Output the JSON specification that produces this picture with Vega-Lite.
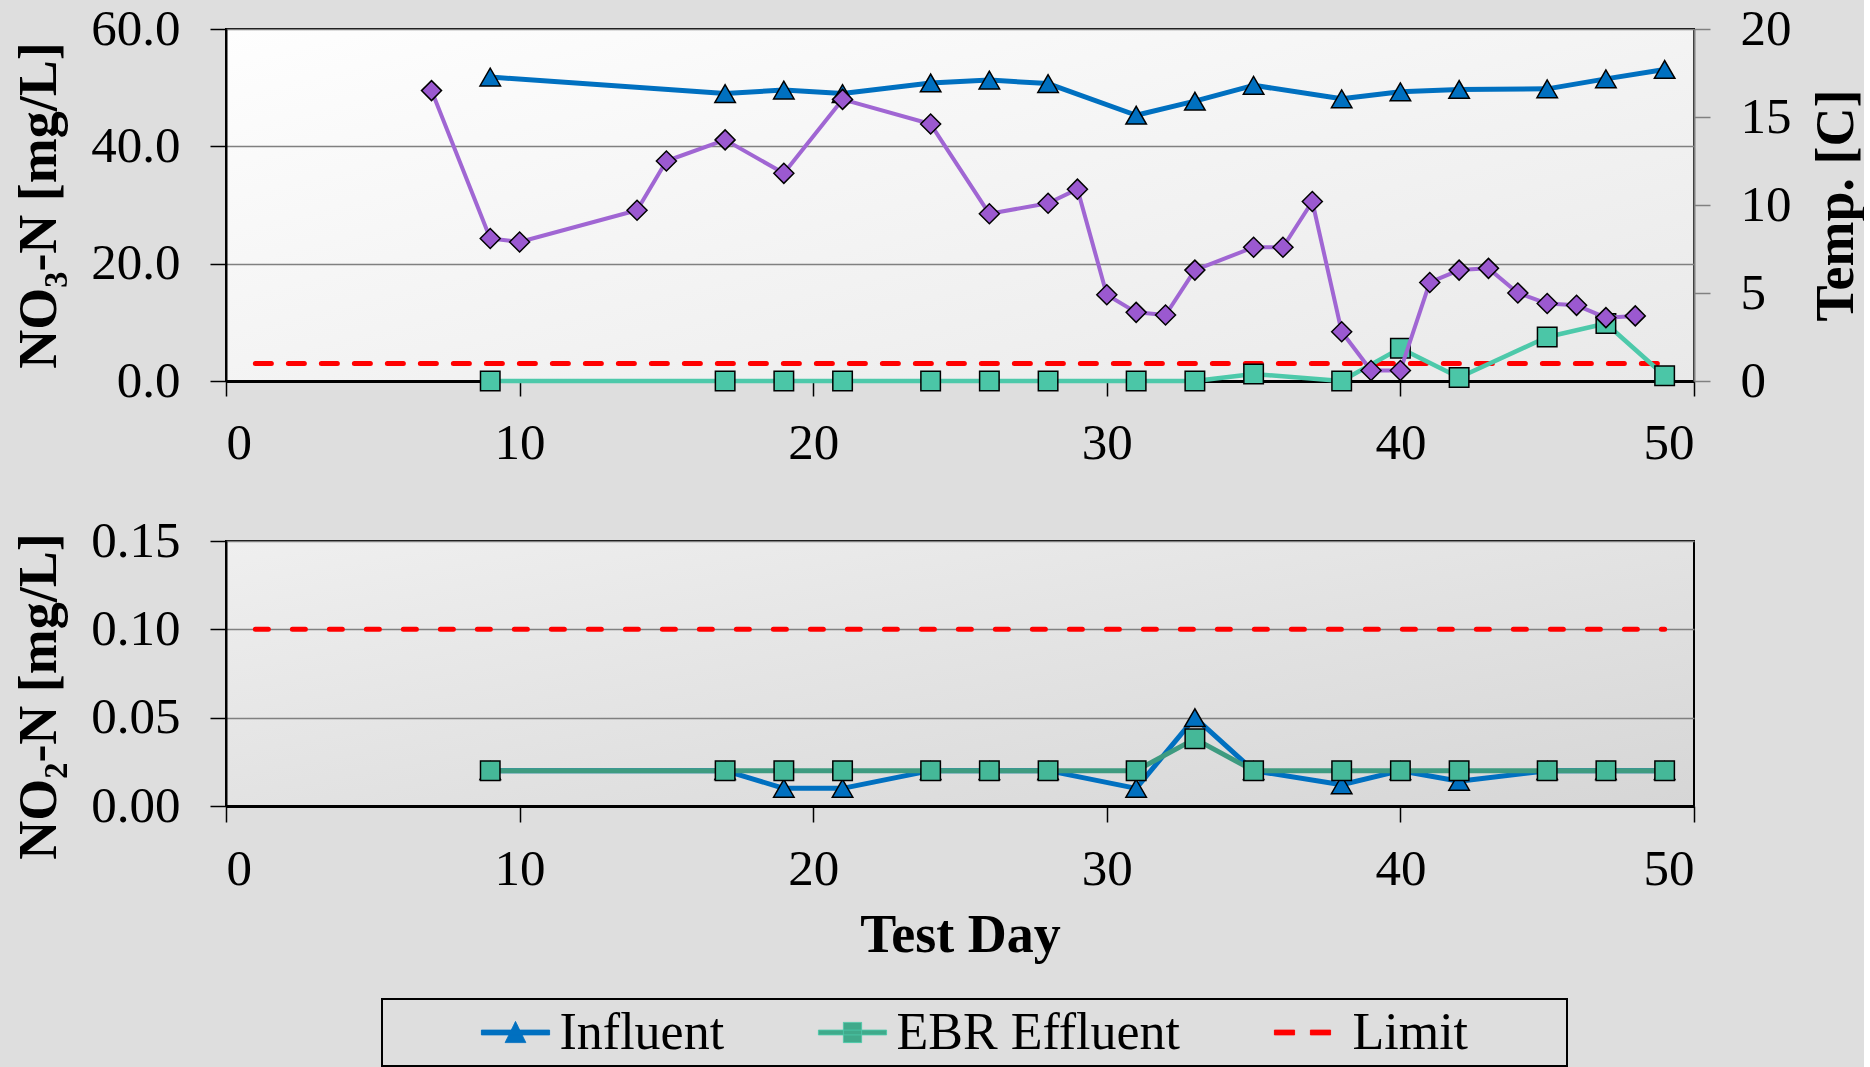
{
  "$schema": "https://vega.github.io/schema/vega-lite/v6.json",
  "background": "#dedede",
  "padding": {"left": 11, "top": 2, "right": 0, "bottom": 0},
  "spacing": 45,
  "config": {
    "font": "Liberation Serif",
    "view": {"stroke": "#000000", "strokeWidth": 2},
    "axis": {
      "labelFont": "Liberation Serif", "labelFontSize": 51, "labelColor": "#000000",
      "titleFont": "Liberation Serif", "titleFontSize": 54, "titleFontWeight": "bold", "titleColor": "#000000",
      "domainColor": "#000000", "domainWidth": 2,
      "tickColor": "#000000", "tickWidth": 1.5, "tickSize": 16,
      "gridColor": "#808080", "gridWidth": 1.5,
      "labelPadding": 30
    },
    "line": {"strokeJoin": "round", "strokeCap": "round"}
  },
  "datasets": {
    "no3": [
      {"day": 9, "value": 51.8, "series": "Influent"},
      {"day": 17, "value": 49.0, "series": "Influent"},
      {"day": 19, "value": 49.6, "series": "Influent"},
      {"day": 21, "value": 49.0, "series": "Influent"},
      {"day": 24, "value": 50.8, "series": "Influent"},
      {"day": 26, "value": 51.3, "series": "Influent"},
      {"day": 28, "value": 50.7, "series": "Influent"},
      {"day": 31, "value": 45.3, "series": "Influent"},
      {"day": 33, "value": 47.7, "series": "Influent"},
      {"day": 35, "value": 50.4, "series": "Influent"},
      {"day": 38, "value": 48.1, "series": "Influent"},
      {"day": 40, "value": 49.3, "series": "Influent"},
      {"day": 42, "value": 49.7, "series": "Influent"},
      {"day": 45, "value": 49.8, "series": "Influent"},
      {"day": 47, "value": 51.5, "series": "Influent"},
      {"day": 49, "value": 53.1, "series": "Influent"},
      {"day": 9, "value": 0, "series": "EBR Effluent"},
      {"day": 17, "value": 0, "series": "EBR Effluent"},
      {"day": 19, "value": 0, "series": "EBR Effluent"},
      {"day": 21, "value": 0, "series": "EBR Effluent"},
      {"day": 24, "value": 0, "series": "EBR Effluent"},
      {"day": 26, "value": 0, "series": "EBR Effluent"},
      {"day": 28, "value": 0, "series": "EBR Effluent"},
      {"day": 31, "value": 0, "series": "EBR Effluent"},
      {"day": 33, "value": 0, "series": "EBR Effluent"},
      {"day": 35, "value": 1.2, "series": "EBR Effluent"},
      {"day": 38, "value": 0, "series": "EBR Effluent"},
      {"day": 40, "value": 5.6, "series": "EBR Effluent"},
      {"day": 42, "value": 0.6, "series": "EBR Effluent"},
      {"day": 45, "value": 7.5, "series": "EBR Effluent"},
      {"day": 47, "value": 9.8, "series": "EBR Effluent"},
      {"day": 49, "value": 0.9, "series": "EBR Effluent"},
      {"day": 1, "value": 3, "series": "Limit"},
      {"day": 49, "value": 3, "series": "Limit"}
    ],
    "temp": [
      {"day": 7, "temp": 16.5},
      {"day": 9, "temp": 8.1},
      {"day": 10, "temp": 7.9},
      {"day": 14, "temp": 9.7},
      {"day": 15, "temp": 12.5},
      {"day": 17, "temp": 13.7},
      {"day": 19, "temp": 11.8},
      {"day": 21, "temp": 16.0},
      {"day": 24, "temp": 14.6},
      {"day": 26, "temp": 9.5},
      {"day": 28, "temp": 10.1},
      {"day": 29, "temp": 10.9},
      {"day": 30, "temp": 4.9},
      {"day": 31, "temp": 3.9},
      {"day": 32, "temp": 3.75},
      {"day": 33, "temp": 6.3},
      {"day": 35, "temp": 7.6},
      {"day": 36, "temp": 7.6},
      {"day": 37, "temp": 10.2},
      {"day": 38, "temp": 2.8},
      {"day": 39, "temp": 0.6},
      {"day": 40, "temp": 0.6},
      {"day": 41, "temp": 5.6},
      {"day": 42, "temp": 6.3},
      {"day": 43, "temp": 6.4},
      {"day": 44, "temp": 5.0},
      {"day": 45, "temp": 4.4},
      {"day": 46, "temp": 4.3},
      {"day": 47, "temp": 3.6},
      {"day": 48, "temp": 3.7}
    ],
    "no2": [
      {"day": 9, "value": 0.02, "series": "Influent"},
      {"day": 17, "value": 0.02, "series": "Influent"},
      {"day": 19, "value": 0.01, "series": "Influent"},
      {"day": 21, "value": 0.01, "series": "Influent"},
      {"day": 24, "value": 0.02, "series": "Influent"},
      {"day": 26, "value": 0.02, "series": "Influent"},
      {"day": 28, "value": 0.02, "series": "Influent"},
      {"day": 31, "value": 0.01, "series": "Influent"},
      {"day": 33, "value": 0.05, "series": "Influent"},
      {"day": 35, "value": 0.02, "series": "Influent"},
      {"day": 38, "value": 0.012, "series": "Influent"},
      {"day": 40, "value": 0.02, "series": "Influent"},
      {"day": 42, "value": 0.014, "series": "Influent"},
      {"day": 45, "value": 0.02, "series": "Influent"},
      {"day": 47, "value": 0.02, "series": "Influent"},
      {"day": 49, "value": 0.02, "series": "Influent"},
      {"day": 9, "value": 0.02, "series": "EBR Effluent"},
      {"day": 17, "value": 0.02, "series": "EBR Effluent"},
      {"day": 19, "value": 0.02, "series": "EBR Effluent"},
      {"day": 21, "value": 0.02, "series": "EBR Effluent"},
      {"day": 24, "value": 0.02, "series": "EBR Effluent"},
      {"day": 26, "value": 0.02, "series": "EBR Effluent"},
      {"day": 28, "value": 0.02, "series": "EBR Effluent"},
      {"day": 31, "value": 0.02, "series": "EBR Effluent"},
      {"day": 33, "value": 0.038, "series": "EBR Effluent"},
      {"day": 35, "value": 0.02, "series": "EBR Effluent"},
      {"day": 38, "value": 0.02, "series": "EBR Effluent"},
      {"day": 40, "value": 0.02, "series": "EBR Effluent"},
      {"day": 42, "value": 0.02, "series": "EBR Effluent"},
      {"day": 45, "value": 0.02, "series": "EBR Effluent"},
      {"day": 47, "value": 0.02, "series": "EBR Effluent"},
      {"day": 49, "value": 0.02, "series": "EBR Effluent"},
      {"day": 1, "value": 0.1, "series": "Limit"},
      {"day": 49, "value": 0.1, "series": "Limit"}
    ]
  },
  "vconcat": [
    {
      "width": 1468,
      "height": 352,
      "view": {"fill": {"gradient": "linear", "x1": 0, "y1": 0, "x2": 1, "y2": 1, "stops": [{"offset": 0, "color": "#fefefe"}, {"offset": 1, "color": "#e9e9e9"}]}},
      "layer": [
        {
          "data": {"name": "no3"},
          "encoding": {
            "x": {"field": "day", "type": "quantitative", "scale": {"domain": [0, 50], "nice": false},
                  "axis": {"values": [0, 10, 20, 30, 40, 50], "title": null, "grid": false, "labelPadding": 22, "tickSize": 15, "domainWidth": 3}},
            "y": {"field": "value", "type": "quantitative", "scale": {"domain": [0, 60], "nice": false},
                  "axis": {"values": [0, 20, 40, 60], "format": ".1f", "title": "NO₃-N [mg/L]", "grid": true, "titlePadding": 24}}
          },
          "layer": [
            {
              "transform": [{"filter": "datum.series === 'Limit'"}],
              "mark": {"type": "line", "strokeWidth": 5, "strokeDash": [16, 17], "strokeCap": "round"},
              "encoding": {
                "color": {
                  "field": "series", "type": "nominal",
                  "scale": {"domain": ["Influent", "EBR Effluent", "Limit"], "range": ["#0070C0", "#4DC9AA", "#FF0000"]},
                  "legend": {
                    "orient": "none",
                    "legendX": 156,
                    "legendY": 970,
                    "direction": "horizontal",
                    "title": "\u00a0",
                    "titleOrient": "left",
                    "titleFontSize": 1,
                    "titlePadding": 100,
                    "labelFont": "Liberation Serif",
                    "labelFontSize": 52,
                    "labelColor": "#000000",
                    "labelLimit": 600,
                    "labelOffset": 18,
                    "columnPadding": 93,
                    "symbolSize": 2304,
                    "padding": 7.5,
                    "strokeColor": "#000000",
                    "labelExpr": "datum.label === 'Limit' ? 'Limit\u00a0\u00a0\u00a0\u00a0\u00a0\u00a0\u00a0\u200b' : datum.label",
                    "encoding": {
                      "legend": {"stroke": {"value": "#000000"}, "strokeWidth": {"value": 2}},
                      "symbols": {
                        "shape": {"value": {"expr": "datum.value === 'Influent' ? 'M-1.42,-0.1H1.42V0.1H-1.42Z M0,-0.46L0.43,0.42H-0.43Z' : datum.value === 'EBR Effluent' ? 'M-1.42,-0.1H1.42V0.1H-1.42Z M-0.38,-0.42H0.38V0.42H-0.38Z' : 'M-1.42,-0.1H-0.58V0.1H-1.42Z M0.08,-0.1H0.92V0.1H0.08Z'"}},
                        "fill": {"value": {"expr": "datum.value === 'Influent' ? '#0070C0' : datum.value === 'EBR Effluent' ? '#40AA8B' : '#FF0000'"}},
                        "stroke": {"value": {"expr": "datum.value === 'Influent' ? '#0060A8' : datum.value === 'EBR Effluent' ? '#2F8A70' : '#FF0000'"}},
                        "strokeWidth": {"value": 1},
                        "strokeDash": {"value": [1, 0]},
                        "opacity": {"value": 1},
                        "fillOpacity": {"value": 1}
                      }
                    }
                  }
                }
              }
            },
            {
              "transform": [{"filter": "datum.series === 'Influent'"}],
              "mark": {"type": "line", "strokeWidth": 5, "color": "#0070C0"}
            },
            {
              "transform": [{"filter": "datum.series === 'EBR Effluent'"}],
              "mark": {"type": "line", "strokeWidth": 4.5, "color": "#4DC9AA"}
            },
            {
              "transform": [{"filter": "datum.series === 'Influent'"}],
              "mark": {"type": "point", "shape": "triangle-up", "filled": true, "size": 420, "fill": "#0070C0", "stroke": "#000000", "strokeWidth": 1.5, "opacity": 1}
            },
            {
              "transform": [{"filter": "datum.series === 'EBR Effluent'"}],
              "mark": {"type": "point", "shape": "square", "filled": true, "size": 380, "fill": "#4BC6A7", "stroke": "#000000", "strokeWidth": 1.5, "opacity": 1}
            }
          ]
        },
        {
          "data": {"name": "temp"},
          "encoding": {
            "x": {"field": "day", "type": "quantitative"},
            "y": {"field": "temp", "type": "quantitative", "scale": {"domain": [0, 20], "nice": false},
                  "axis": {"orient": "right", "values": [0, 5, 10, 15, 20], "title": "Temp. [C]", "grid": false,
                           "domainColor": "#808080", "tickColor": "#808080", "tickSize": 16,
                           "titleAngle": 270, "titleBaseline": "top", "titlePadding": 18}}
          },
          "layer": [
            {"mark": {"type": "line", "color": "#A066D3", "strokeWidth": 4}},
            {"mark": {"type": "point", "shape": "diamond", "filled": true, "size": 400, "fill": "#9B59D0", "stroke": "#000000", "strokeWidth": 1.5, "opacity": 1}}
          ]
        }
      ],
      "resolve": {"scale": {"y": "independent"}}
    },
    {
      "width": 1468,
      "height": 265,
      "view": {"fill": {"gradient": "linear", "x1": 0, "y1": 0, "x2": 1, "y2": 1, "stops": [{"offset": 0, "color": "#efefef"}, {"offset": 1, "color": "#d6d6d6"}]}},
      "data": {"name": "no2"},
      "encoding": {
        "x": {"field": "day", "type": "quantitative", "scale": {"domain": [0, 50], "nice": false},
              "axis": {"values": [0, 10, 20, 30, 40, 50], "title": "Test Day", "grid": false, "labelPadding": 22, "tickSize": 16, "domainWidth": 3, "titlePadding": 14}},
        "y": {"field": "value", "type": "quantitative", "scale": {"domain": [0, 0.15], "nice": false},
              "axis": {"values": [0, 0.05, 0.1, 0.15], "format": ".2f", "title": "NO₂-N [mg/L]", "grid": true, "titlePadding": 24, "titleY": 155}}
      },
      "layer": [
        {
          "transform": [{"filter": "datum.series === 'Limit'"}],
          "mark": {"type": "line", "strokeWidth": 5, "strokeDash": [13, 24], "strokeCap": "round", "color": "#FF0000"}
        },
        {
          "transform": [{"filter": "datum.series === 'Influent'"}],
          "mark": {"type": "line", "strokeWidth": 5, "color": "#0070C0"}
        },
        {
          "transform": [{"filter": "datum.series === 'EBR Effluent'"}],
          "mark": {"type": "line", "strokeWidth": 5, "color": "#3E9B80"}
        },
        {
          "transform": [{"filter": "datum.series === 'Influent'"}],
          "mark": {"type": "point", "shape": "triangle-up", "filled": true, "size": 420, "fill": "#0070C0", "stroke": "#000000", "strokeWidth": 1.5, "opacity": 1}
        },
        {
          "transform": [{"filter": "datum.series === 'EBR Effluent'"}],
          "mark": {"type": "point", "shape": "square", "filled": true, "size": 380, "fill": "#45B898", "stroke": "#000000", "strokeWidth": 1.5, "opacity": 1}
        }
      ]
    }
  ]
}
